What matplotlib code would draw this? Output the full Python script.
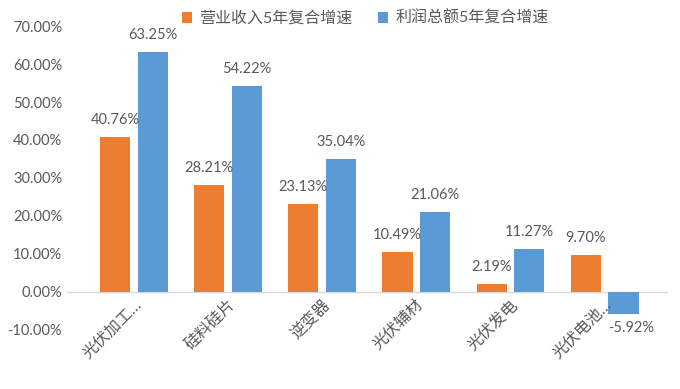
import matplotlib
matplotlib.use("Agg")
import matplotlib.pyplot as plt
import numpy as np

plt.rcParams['font.family'] = ['Lato', 'Noto Sans CJK SC', 'DejaVu Sans']

categories = ["光伏加工…", "硅料硅片", "逆变器", "光伏辅材", "光伏发电", "光伏电池…"]
revenue_cagr = [40.76, 28.21, 23.13, 10.49, 2.19, 9.70]
profit_cagr = [63.25, 54.22, 35.04, 21.06, 11.27, -5.92]
series_names = ["营业收入5年复合增速", "利润总额5年复合增速"]
yticks = [-10, 0, 10, 20, 30, 40, 50, 60, 70]

orange = "#ED7D31"
blue = "#5B9BD5"
gray = "#595959"

fig = plt.figure(figsize=(6.8, 3.89), dpi=100)
ax = fig.add_axes([0.0985, 0.152, 0.8835, 0.781])

x = np.arange(len(categories))
w = 0.32
off = 0.20
b1 = ax.bar(x - off, revenue_cagr, w, color=orange, label=series_names[0])
b2 = ax.bar(x + off, profit_cagr, w, color=blue, label=series_names[1])

fs = 10.5
for xi, v in zip(x - off, revenue_cagr):
    ax.text(xi, v + 2.6, f"{v:.2f}%", ha='center', va='bottom', fontsize=fs, color=gray)
for xi, v in zip(x + off, profit_cagr):
    if v >= 0:
        ax.text(xi, v + 2.6, f"{v:.2f}%", ha='center', va='bottom', fontsize=fs, color=gray)
    else:
        ax.text(xi + 0.08, v - 1.8, f"{v:.2f}%", ha='center', va='top', fontsize=fs, color=gray)

ax.spines['bottom'].set_position(('data', 0))
ax.set_ylim(-10, 70)
ax.set_xlim(-0.71, 5.67)
ax.set_yticks(yticks)
ax.set_yticklabels([f"{t:.2f}%" for t in yticks], fontsize=fs, color=gray)
ax.set_xticks(x)
ax.set_xticklabels(categories, rotation=45, ha='right', rotation_mode='anchor',
                   fontsize=11.5, color=gray)
ax.tick_params(axis='both', length=0)
ax.tick_params(axis='x', pad=4)
for s in ax.spines.values():
    s.set_visible(False)
ax.axhline(0, color='#D9D9D9', linewidth=1, zorder=0)

leg = fig.legend(handles=[b1, b2], labels=series_names, loc='center left',
                 bbox_to_anchor=(0.267, 0.953), ncol=2, frameon=False, fontsize=11.5,
                 handlelength=0.65, handleheight=0.65, columnspacing=1.6, handletextpad=0.45,
                 borderpad=0, borderaxespad=0)
for t in leg.get_texts():
    t.set_color(gray)

fig.savefig("out.png", dpi=100)
